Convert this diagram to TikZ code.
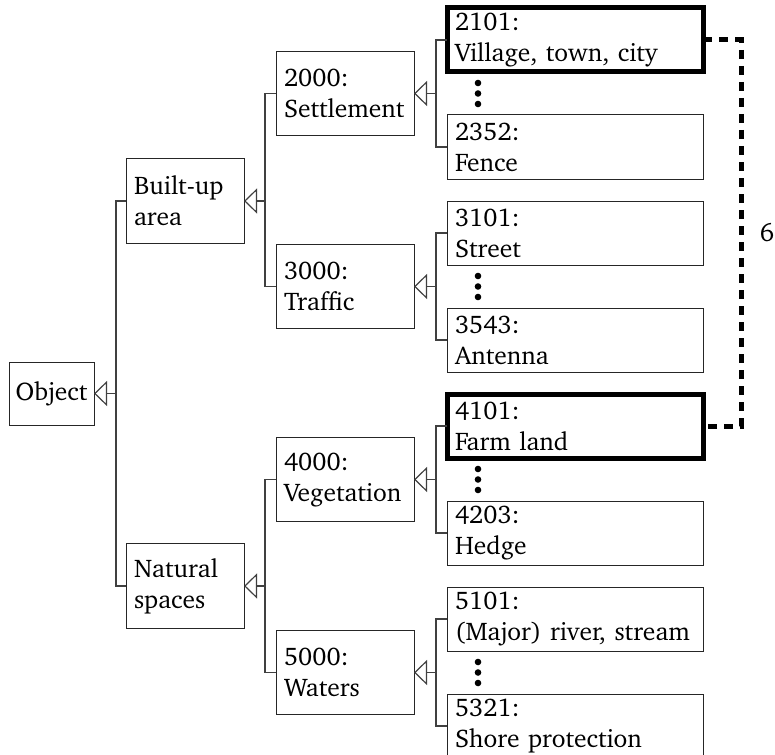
\documentclass[tikz,border=0pt]{standalone}
\usepackage[T1]{fontenc}
\usepackage{charter}
\usetikzlibrary{arrows.meta,calc}

\tikzset{
    box/.style={draw=black!85, line width=1pt, outer sep=0pt, inner xsep=8pt, inner ysep=0pt, anchor=west, align=left},
    leaf/.style={box, text width=240pt, minimum height=64pt},
    group/.style={box, text width=122pt, minimum height=84pt},
    area/.style={box, text width=102pt, minimum height=85pt},
    marked/.style={draw=black, line width=5pt},
    link/.style={draw=black!75, line width=1.2pt},
    gen/.style={link, -{Triangle[open, length=13pt, width=25pt]}},
    loopline/.style={draw=black, line width=5pt, dash pattern=on 9pt off 7pt},
}

\begin{document}
\begin{tikzpicture}[x=1pt, y=-1pt, font=\fontsize{25.5}{31}\selectfont]
        \useasboundingbox (0,0) rectangle (775,754);
        \clip (0,0) rectangle (775,754);

        % Root and the two areas
        \node[box, align=center, inner xsep=0pt, minimum width=85pt, minimum height=63pt] (obj) at (9,393.5) {Object};
        \node[area] (built) at (126,201) {Built-up\\area};
        \node[area] (natural) at (126,586) {Natural\\spaces};

        % Groups
        \node[group] (s2000) at (276,93.5) {2000:\\Settlement};
        \node[group] (s3000) at (276,286.5) {3000:\\Traffic};
        \node[group] (s4000) at (276,479.5) {4000:\\Vegetation};
        \node[group] (s5000) at (276,672.5) {5000:\\Waters};

        % Leaves (first and last of each group)
        \node[leaf, marked] (l2101) at (447,40) {2101:\\Village, town, city};
        \node[leaf] (l2352) at (447,147) {2352:\\Fence};
        \node[leaf] (l3101) at (447,233) {3101:\\Street};
        \node[leaf] (l3543) at (447,340) {3543:\\Antenna};
        \node[leaf, marked] (l4101) at (447,426) {4101:\\Farm land};
        \node[leaf] (l4203) at (447,533) {4203:\\Hedge};
        \node[leaf] (l5101) at (447,619) {5101:\\(Major) river, stream};
        \node[leaf] (l5321) at (447,726) {5321:\\Shore protection};

        % Root connectors
        \coordinate (b0) at ($(obj.east)+(22,0)$);
        \draw[link] (built.west) -| (b0) |- (natural.west);
        \draw[gen] (b0) -- (obj.east);

        % Area connectors
        \foreach \p/\a/\b in {built/s2000/s3000, natural/s4000/s5000} {
            \coordinate (bus) at ($(\p.east)+(21,0)$);
            \draw[link] (\a.west) -| (bus) |- (\b.west);
            \draw[gen] (bus) -- (\p.east);
        }

        % Group connectors and the dots between the leaves
        \foreach \g/\a/\b in {s2000/l2101/l2352, s3000/l3101/l3543, s4000/l4101/l4203, s5000/l5101/l5321} {
            \coordinate (bus) at ($(\g.east)+(22,0)$);
            \draw[link] (\a.west) -| (bus) |- (\b.west);
            \draw[gen] (bus) -- (\g.east);
            \foreach \k in {-1,0,1} {
                \fill ($(\a.south west)!0.5!(\b.north west)+(31,\k*10.5)$) circle (3.3pt);
            }
        }

        % Dashed link between the marked leaves
        \draw[loopline] (l2101.east) -- ++(38,0) |- (l4101.east) node[pos=0.25, anchor=west, xshift=13pt] (six) {6};
    \end{tikzpicture}
\end{document}
